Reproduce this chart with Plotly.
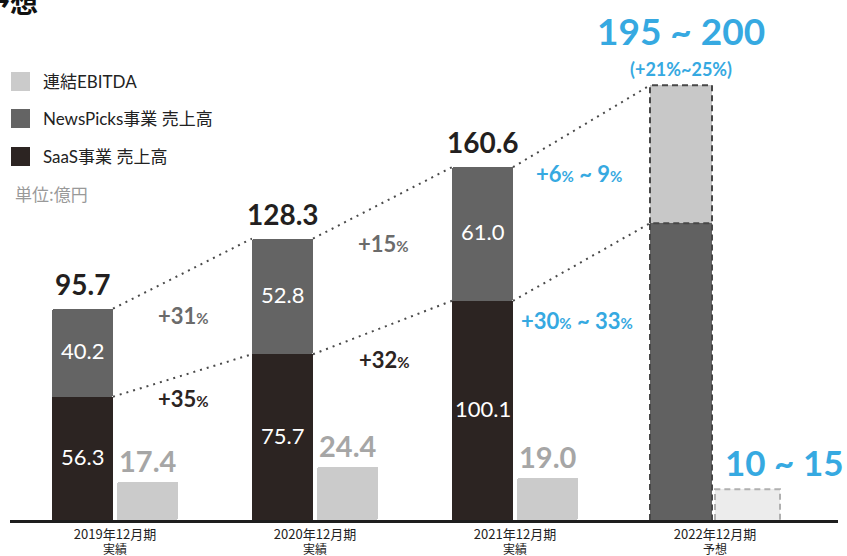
import plotly.graph_objects as go

# ---- data -------------------------------------------------------------
periods = ["2019年12月期", "2020年12月期", "2021年12月期", "2022年12月期"]
period_kind = ["実績", "実績", "実績", "予想"]

saas = [56.3, 75.7, 100.1]          # SaaS事業 売上高
newspicks = [40.2, 52.8, 61.0]      # NewsPicks事業 売上高
totals = [95.7, 128.3, 160.6]       # 連結売上高
ebitda = [17.4, 24.4, 19.0]         # 連結EBITDA

fc_saas = 135.5                     # 2022 forecast (SaaS part)
fc_newspicks = 63.0                 # 2022 forecast (NewsPicks part)
fc_ebitda = 14.0
fc_total_label = "195 ~ 200"
fc_total_growth = "(+21%~25%)"
fc_ebitda_label = "10 ~ 15"

total_growth = ["+31%", "+15%", "+6% ~ 9%"]
saas_growth = ["+35%", "+32%", "+30% ~ 33%"]

series_names = ["連結EBITDA", "NewsPicks事業 売上高", "SaaS事業 売上高"]
unit_label = "単位:億円"
title_text = "業績予想"

# ---- style ------------------------------------------------------------
C_SAAS = "#2c2422"
C_NP = "#646464"
C_EB = "#cbcbcb"
C_FC_LOW = "#616161"
C_FC_UP = "#c8c8c8"
C_FC_EB = "#ececec"
C_BLUE = "#36a9e1"
C_GRAY_TXT = "#6b6b6b"
C_EB_TXT = "#a6a6a6"
FONT = "Lato, 'Noto Sans CJK JP', sans-serif"
CJK = "'Noto Sans CJK JP', sans-serif"

W, H = 847, 556
ML, MR, MT, MB = 10, 9, 0, 36
PW, PH = W - ML - MR, H - MT - MB

REV_OFF, REV_W = -0.315, 0.305
EB_OFF, EB_W = 0.01, 0.305
FC_OFF, FC_W = -0.325, 0.31
FCE_OFF, FCE_W = 0.0, 0.325
Y_MAX = PH / 2.19


def px(x):
    return (x - ML) / PW


def py(y):
    return (MT + PH - y) / PH


hist_x = list(range(len(saas)))
fc_x = len(saas)
stack_top = [a + b for a, b in zip(saas, newspicks)]

fig = go.Figure()

# historical stacked revenue bars
fig.add_trace(go.Bar(x=hist_x, y=saas, base=[0] * len(saas), offset=REV_OFF, width=REV_W,
                     marker=dict(color=C_SAAS, line=dict(width=0)), hoverinfo="skip"))
fig.add_trace(go.Bar(x=hist_x, y=newspicks, base=saas, offset=REV_OFF, width=REV_W,
                     marker=dict(color=C_NP, line=dict(width=0), cornerradius=2), hoverinfo="skip"))
fig.add_trace(go.Bar(x=hist_x, y=ebitda, base=[0] * len(ebitda), offset=EB_OFF, width=EB_W,
                     marker=dict(color=C_EB, line=dict(width=0), cornerradius=2), hoverinfo="skip"))

# forecast bars
fig.add_trace(go.Bar(x=[fc_x], y=[fc_saas], base=[0], offset=FC_OFF, width=FC_W,
                     marker=dict(color=C_FC_LOW, line=dict(width=0)), hoverinfo="skip"))
fig.add_trace(go.Bar(x=[fc_x], y=[fc_newspicks], base=[fc_saas], offset=FC_OFF, width=FC_W,
                     marker=dict(color=C_FC_UP, line=dict(width=0)), hoverinfo="skip"))
fig.add_trace(go.Bar(x=[fc_x], y=[fc_ebitda], base=[0], offset=FCE_OFF, width=FCE_W,
                     marker=dict(color=C_FC_EB, line=dict(width=0)), hoverinfo="skip"))


def outline(x0, x1, y0, y1, color):
    fig.add_trace(go.Scatter(x=[x0, x0, x1, x1], y=[y0, y1, y1, y0], mode="lines",
                             line=dict(color=color, width=2, dash="6px,4px"),
                             hoverinfo="skip", cliponaxis=False))


# dashed outlines of the forecast bars
outline(fc_x + FC_OFF, fc_x + FC_OFF + FC_W, 0, fc_saas, "#474747")
outline(fc_x + FC_OFF, fc_x + FC_OFF + FC_W, fc_saas, fc_saas + fc_newspicks, "#474747")
outline(fc_x + FCE_OFF, fc_x + FCE_OFF + FCE_W, 0, fc_ebitda, "#b0b0b0")

# dotted growth connectors
tops_total = stack_top + [fc_saas + fc_newspicks]
tops_saas = saas + [fc_saas]
offs = [REV_OFF] * len(saas) + [FC_OFF]
widths = [REV_W] * len(saas) + [FC_W]
for tops in (tops_total, tops_saas):
    for i in range(len(tops) - 1):
        fig.add_trace(go.Scatter(
            x=[i + offs[i] + widths[i], i + 1 + offs[i + 1]], y=[tops[i], tops[i + 1]],
            mode="lines", line=dict(color="#4a4a4a", width=2, dash="2px,5px"),
            hoverinfo="skip"))

ann = []

# values inside / above the bars
for i in hist_x:
    cx = i + REV_OFF + REV_W / 2
    ann.append(dict(x=cx, y=saas[i] / 2, text=f"{saas[i]:.1f}", showarrow=False,
                    xanchor="center", yanchor="middle", yshift=2,
                    font=dict(size=22, color="white", family=FONT)))
    ann.append(dict(x=cx, y=saas[i] + newspicks[i] / 2, text=f"{newspicks[i]:.1f}",
                    showarrow=False, xanchor="center", yanchor="middle", yshift=2,
                    font=dict(size=22, color="white", family=FONT)))
    ann.append(dict(x=cx, y=stack_top[i], text=f"<b>{totals[i]:.1f}</b>", showarrow=False,
                    xanchor="center", yanchor="bottom", yshift=6,
                    font=dict(size=28, color="#231f20", family=FONT)))
    ann.append(dict(x=i + EB_OFF + EB_W / 2, y=ebitda[i], text=f"<b>{ebitda[i]:.1f}</b>",
                    showarrow=False, xanchor="center", yanchor="bottom", yshift=2,
                    font=dict(size=29, color=C_EB_TXT, family=FONT)))

# forecast labels
fc_cx = fc_x + FC_OFF + FC_W / 2
ann.append(dict(x=fc_cx, y=fc_saas + fc_newspicks, text=f"<b>{fc_total_growth}</b>",
                showarrow=False, xanchor="center", yanchor="bottom", yshift=3,
                font=dict(size=18, color=C_BLUE, family=FONT)))
ann.append(dict(x=fc_cx, y=fc_saas + fc_newspicks, text=f"<b>{fc_total_label}</b>",
                showarrow=False, xanchor="center", yanchor="bottom", yshift=30,
                font=dict(size=37, color=C_BLUE, family=FONT)))
ann.append(dict(x=fc_x + FCE_OFF, y=fc_ebitda, text=f"<b>{fc_ebitda_label}</b>",
                showarrow=False, xanchor="left", xshift=8, yanchor="bottom", yshift=4,
                font=dict(size=35, color=C_BLUE, family=FONT)))


def pct_small(s, size):
    return s.replace("%", f"<span style='font-size:{size}px'>%</span>")


# growth rates between periods
total_growth_pos = [(183, 315), (383, 243), (579, 173)]
saas_growth_pos = [(183, 398), (384, 359), (577, 320)]
total_growth_col = [C_GRAY_TXT, C_GRAY_TXT, C_BLUE]
saas_growth_col = [C_SAAS, C_SAAS, C_BLUE]
for labels, pos, cols in ((total_growth, total_growth_pos, total_growth_col),
                          (saas_growth, saas_growth_pos, saas_growth_col)):
    for s, (gx, gy), c in zip(labels, pos, cols):
        ann.append(dict(x=px(gx), y=py(gy), xref="paper", yref="paper", showarrow=False,
                        xanchor="center", yanchor="middle",
                        text=f"<b>{pct_small(s, 15)}</b>",
                        font=dict(size=22, color=c, family=FONT)))

# second line of the period labels (actual / forecast)
for i, k in enumerate(period_kind):
    ann.append(dict(x=i, y=py(548), xref="x", yref="paper", xanchor="center",
                    yanchor="middle", showarrow=False, text=k,
                    font=dict(size=12, color="#222", family=CJK)))

# legend
legend_colors = [C_EB, C_NP, C_SAAS]
legend_y = [81.5, 118.5, 156.5]
shapes = []
for name, col, ly in zip(series_names, legend_colors, legend_y):
    shapes.append(dict(type="rect", xref="paper", yref="paper",
                       x0=px(11), x1=px(30), y0=py(ly - 9.5), y1=py(ly + 9.5),
                       fillcolor=col, line=dict(width=0)))
    ann.append(dict(x=px(41), y=py(ly), xref="paper", yref="paper", xanchor="left",
                    yanchor="middle", showarrow=False, text=name,
                    font=dict(size=17, color="#222", family=FONT)))
ann.append(dict(x=px(13), y=py(193), xref="paper", yref="paper", xanchor="left",
                yanchor="middle", showarrow=False, text=unit_label,
                font=dict(size=17, color="#999", family=CJK)))

# page title (runs off the left edge)
ann.append(dict(x=px(40), y=py(1), xref="paper", yref="paper", xanchor="right",
                yanchor="middle", showarrow=False, text=f"<b>{title_text}</b>",
                font=dict(size=28, color="#111", family=CJK)))

fig.update_layout(
    width=W, height=H, margin=dict(l=ML, r=MR, t=MT, b=MB, autoexpand=False),
    paper_bgcolor="white", plot_bgcolor="white",
    barmode="overlay", showlegend=False, bargap=0,
    annotations=ann, shapes=shapes,
    xaxis=dict(range=[-0.525, 3.615], tickvals=list(range(len(periods))),
               ticktext=periods,
               tickfont=dict(size=13, color="#222", family=CJK),
               ticklabelstandoff=0, automargin=False,
               showline=True, linecolor="#1e1e1e", linewidth=3, ticks="",
               showgrid=False, zeroline=False, fixedrange=True),
    yaxis=dict(range=[0, Y_MAX], visible=False, showgrid=False, zeroline=False,
               fixedrange=True, automargin=False),
)

fig.write_html("out.html")
